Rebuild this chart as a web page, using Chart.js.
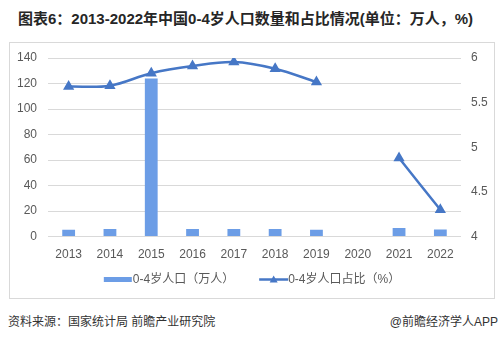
<!DOCTYPE html>
<html>
<head>
<meta charset="utf-8">
<script src="https://cdn.jsdelivr.net/npm/chart.js@4/dist/chart.umd.min.js"></script>
<style>
  body { margin: 0; background: #fff; width: 500px; height: 339px; position: relative; overflow: hidden;
         font-family: "Liberation Sans", "Noto Sans CJK SC", sans-serif; }
  .title { position: absolute; left: 18px; top: 7px; font-size: 15px; font-weight: bold; color: #262626; white-space: nowrap; }
  .box { position: absolute; left: 9px; top: 42px; width: 486px; height: 257px; border: 1px solid #d9d9d9; box-sizing: border-box; }
  .box canvas { display: block; }
  .src { position: absolute; left: 8px; top: 312px; font-size: 12px; color: #333; }
  .app { position: absolute; right: 2px; top: 312px; font-size: 12px; color: #333; }
</style>
</head>
<body>
<div class="title">图表6：2013-2022年中国0-4岁人口数量和占比情况(单位：万人，%)</div>
<div class="box"><canvas id="c" width="484" height="255"></canvas></div>
<div class="src">资料来源：国家统计局 前瞻产业研究院</div>
<div class="app">@前瞻经济学人APP</div>
<script>
// data
const years = ['2013', '2014', '2015', '2016', '2017', '2018', '2019', '2020', '2021', '2022'];
const population = [5.3, 6, 124, 6, 6, 6, 5.3, null, 6.8, 5.5];      // 万人
const share = [5.68, 5.69, 5.83, 5.91, 5.955, 5.88, 5.73, null, 4.88, 4.3]; // %
const leftTicks = [0, 140, 20];
const rightTicks = [4, 6, 0.5];

const barLabel = '0-4岁人口（万人）';
const lineLabel = '0-4岁人口占比（%）';
const barColor = '#6c9de6';
const lineColor = '#4677c6';
const font = '"Liberation Sans", "Noto Sans CJK SC", sans-serif';

// legend drawn by hand: flat bar swatch, line swatch with triangle marker
const legendPlugin = {
    id: 'bottomLegend',
    afterDraw(chart) {
        const ctx = chart.ctx;
        ctx.save();
        ctx.font = '12px ' + font;
        ctx.textBaseline = 'middle';
        const w1 = ctx.measureText(barLabel).width;
        const w2 = ctx.measureText(lineLabel).width;
        const total = 28 + 1 + w1 + 25 + 29 + w2;
        const y = 236.5;
        let x = chart.width / 2 - total / 2;
        ctx.fillStyle = barColor;
        ctx.fillRect(x, y - 2.5, 28, 5);
        x += 29;
        ctx.fillStyle = '#595959';
        ctx.fillText(barLabel, x, y);
        x += w1 + 25;
        ctx.strokeStyle = lineColor;
        ctx.lineWidth = 2.5;
        ctx.beginPath();
        ctx.moveTo(x, y);
        ctx.lineTo(x + 29, y);
        ctx.stroke();
        ctx.fillStyle = lineColor;
        ctx.beginPath();
        ctx.moveTo(x + 14.5, y - 4);
        ctx.lineTo(x + 18.5, y + 3);
        ctx.lineTo(x + 10.5, y + 3);
        ctx.closePath();
        ctx.fill();
        x += 29;
        ctx.fillStyle = '#595959';
        ctx.fillText(lineLabel, x, y);
        ctx.restore();
    }
};

Chart.defaults.font.family = font;
Chart.defaults.color = '#595959';

new Chart(document.getElementById('c'), {
    type: 'bar',
    data: {
        labels: years,
        datasets: [{
            type: 'line',
            label: lineLabel,
            data: share,
            yAxisID: 'y1',
            borderColor: lineColor,
            backgroundColor: lineColor,
            borderWidth: 2.5,
            tension: 0.35,
            spanGaps: false,
            pointStyle: 'triangle',
            pointRadius: 4,
            pointBackgroundColor: lineColor,
            pointBorderColor: lineColor,
            order: 0
        }, {
            label: barLabel,
            data: population,
            yAxisID: 'y',
            backgroundColor: barColor,
            categoryPercentage: 1,
            barPercentage: 0.31,
            order: 1
        }]
    },
    options: {
        responsive: false,
        animation: false,
        layout: { padding: { top: 15, bottom: 25, left: 0, right: 0 } },
        plugins: {
            legend: { display: false },
            tooltip: { enabled: false }
        },
        scales: {
            x: {
                grid: { display: false, drawTicks: false },
                border: { display: false },
                ticks: { padding: 11, font: { size: 12 }, autoSkip: false, minRotation: 0, maxRotation: 0 }
            },
            y: {
                position: 'left',
                min: leftTicks[0],
                max: leftTicks[1],
                ticks: { stepSize: leftTicks[2], padding: 11, font: { size: 12 } },
                grid: { color: '#d9d9d9', drawTicks: false },
                border: { display: false },
                afterFit(s) { s.width = 38; s.paddingTop = 0; s.paddingBottom = 0; }
            },
            y1: {
                position: 'right',
                min: rightTicks[0],
                max: rightTicks[1],
                ticks: {
                    stepSize: rightTicks[2], padding: 10, font: { size: 12 },
                    callback: v => String(Math.round(v * 10) / 10)
                },
                grid: { display: false, drawTicks: false },
                border: { display: false },
                afterFit(s) { s.width = 33; s.paddingTop = 0; s.paddingBottom = 0; }
            }
        }
    },
    plugins: [legendPlugin]
});
</script>
</body>
</html>
